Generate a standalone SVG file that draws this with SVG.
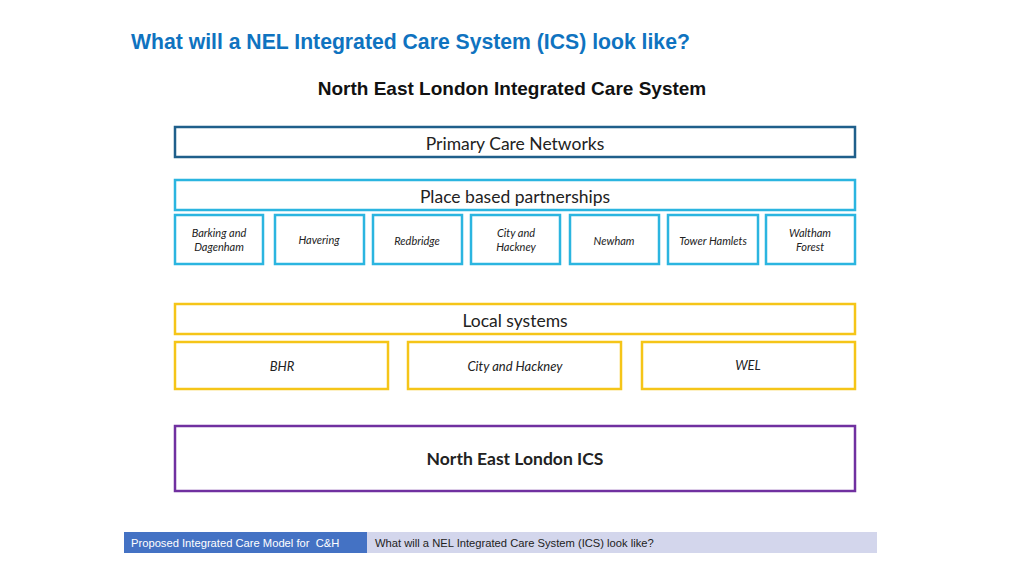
<svg xmlns="http://www.w3.org/2000/svg" width="1024" height="576" viewBox="0 0 1024 576">
<style>
.box{fill:#fff;stroke-width:2.5}
.pcn{stroke:#1f5f8b}
.pl{stroke:#2bb5e0}
.ls{stroke:#f5c518}
.ics{stroke:#7030a0}
.t{font-family:Lato,"Open Sans",sans-serif;fill:#222;text-anchor:middle}
.big{font-size:17.5px}
.sm{font-size:11px;font-style:italic}
.md{font-size:13px;font-style:italic}
.ft{font-family:"Liberation Sans",Arial,sans-serif;font-size:11.2px}
</style>
<rect width="1024" height="576" fill="#fff"/>
<text x="131" y="49" font-family="Liberation Sans,Arial,sans-serif" font-size="21.2" font-weight="bold" fill="#0f73c0">What will a NEL Integrated Care System (ICS) look like?</text>
<text x="512" y="95" font-family="Liberation Sans,Arial,sans-serif" font-size="19" font-weight="bold" fill="#111" text-anchor="middle">North East London Integrated Care System</text>
<g id="pcn"><rect class="box pcn" x="175" y="127" width="680" height="30"/><text class="t big" x="515" y="149.5">Primary Care Networks</text></g>
<g id="place"><rect class="box pl" x="175" y="180" width="680" height="30"/><text class="t big" x="515" y="202.5">Place based partnerships</text></g>
<g id="barking"><rect class="box pl" x="175" y="215" width="88" height="49"/><text class="t sm" x="219" y="237">Barking and</text><text class="t sm" x="219" y="251">Dagenham</text></g>
<g id="havering"><rect class="box pl" x="275" y="215" width="89" height="49"/><text class="t sm" x="319" y="244">Havering</text></g>
<g id="redbridge"><rect class="box pl" x="373" y="215" width="89" height="49"/><text class="t sm" x="417" y="245">Redbridge</text></g>
<g id="cityhackney1"><rect class="box pl" x="471" y="215" width="89" height="49"/><text class="t sm" x="516" y="237">City and</text><text class="t sm" x="516" y="251">Hackney</text></g>
<g id="newham"><rect class="box pl" x="570" y="215" width="89" height="49"/><text class="t sm" x="614" y="245">Newham</text></g>
<g id="tower"><rect class="box pl" x="668" y="215" width="90" height="49"/><text class="t sm" x="713" y="245">Tower Hamlets</text></g>
<g id="waltham"><rect class="box pl" x="766" y="215" width="89" height="49"/><text class="t sm" x="810" y="237">Waltham</text><text class="t sm" x="810" y="251">Forest</text></g>
<g id="local"><rect class="box ls" x="175" y="304" width="680" height="30"/><text class="t big" x="515" y="327">Local systems</text></g>
<g id="bhr"><rect class="box ls" x="175" y="342" width="213" height="47"/><text class="t md" x="282" y="371">BHR</text></g>
<g id="cityhackney2"><rect class="box ls" x="408" y="342" width="213" height="47"/><text class="t md" x="515" y="371">City and Hackney</text></g>
<g id="wel"><rect class="box ls" x="642" y="342" width="213" height="47"/><text class="t md" x="748" y="370">WEL</text></g>
<g id="nelics"><rect class="box ics" x="175" y="426" width="680" height="65"/><text class="t big" x="515" y="465" font-weight="bold" fill="#111">North East London ICS</text></g>
<g id="connectors"></g>
<g id="footer">
<rect x="124" y="532" width="243" height="21" fill="#4472c4"/>
<rect x="367" y="532" width="510" height="21" fill="#d3d6ec"/>
<text class="ft" x="131" y="547" fill="#fff">Proposed Integrated Care Model for&#160; C&amp;H</text>
<text class="ft" x="375" y="547" fill="#222">What will a NEL Integrated Care System (ICS) look like?</text>
</g>
</svg>
